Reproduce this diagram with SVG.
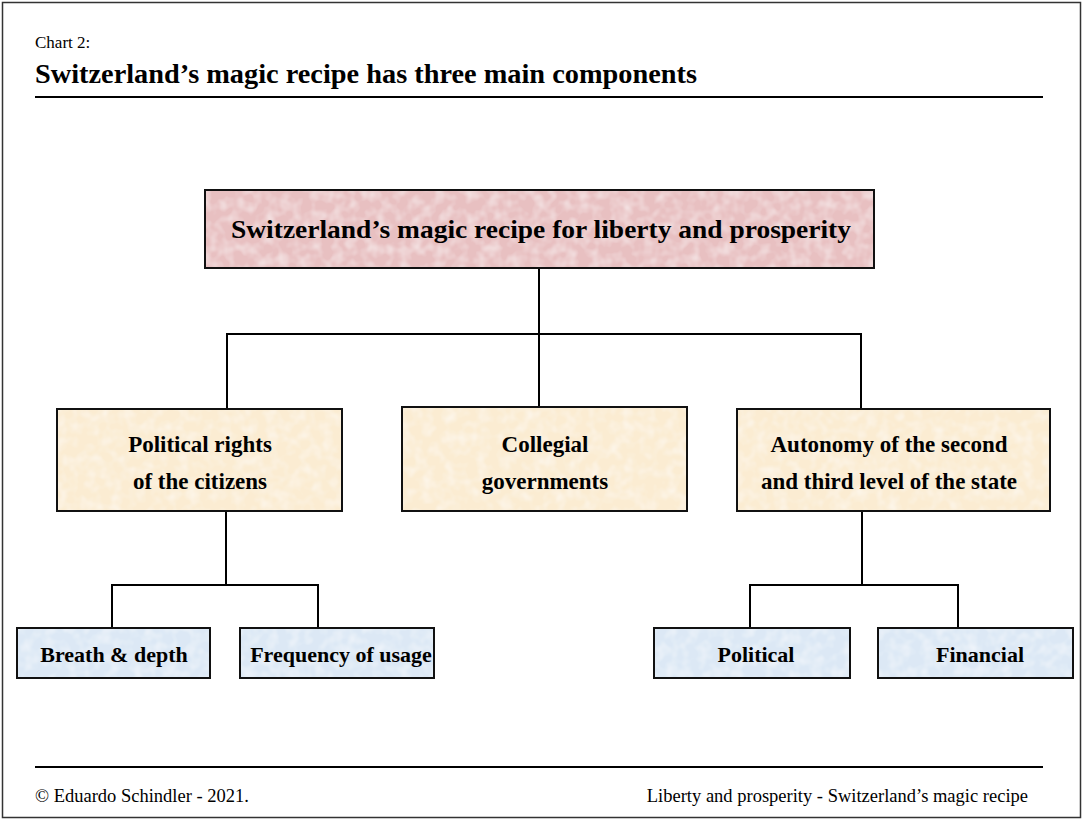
<svg xmlns="http://www.w3.org/2000/svg" width="1083" height="820" viewBox="0 0 1083 820">
<style>
text{font-family:"Liberation Serif","Times New Roman",serif;fill:#000}
.b{font-weight:bold}
.box{stroke:#111;stroke-width:2;fill:none}
.pink{fill:#E8C0C1}
.cream{fill:#FBECD2}
.blue{fill:#DCE8F5}
.c{text-anchor:middle}
.conn line{stroke:#000;stroke-width:2}
</style>
<defs>
<filter id="tex" x="0" y="0" width="1" height="1">
<feTurbulence type="fractalNoise" baseFrequency="0.09" numOctaves="2" seed="7" result="n"/>
<feColorMatrix in="n" type="matrix" values="0 0 0 0 1  0 0 0 0 1  0 0 0 0 1  0 0 0 0.9 -0.35" result="w"/>
<feComposite in="w" in2="SourceGraphic" operator="in" result="wi"/>
<feMerge><feMergeNode in="SourceGraphic"/><feMergeNode in="wi"/></feMerge>
</filter>
</defs>
<rect x="2.5" y="2.5" width="1078" height="815" fill="#fff" stroke="#333" stroke-width="1.5"/>
<g id="header">
<text x="35" y="48" font-size="17">Chart 2:</text>
<text x="35" y="83" font-size="28" class="b" textLength="662" lengthAdjust="spacingAndGlyphs">Switzerland’s magic recipe has three main components</text>
<line x1="35" y1="97" x2="1043" y2="97" stroke="#000" stroke-width="2"/>
</g>
<g class="conn" id="connectors">
<line x1="539" y1="268" x2="539" y2="335"/>
<line x1="226" y1="334" x2="862" y2="334"/>
<line x1="227" y1="334" x2="227" y2="409"/>
<line x1="539" y1="334" x2="539" y2="407"/>
<line x1="861" y1="334" x2="861" y2="409"/>
<line x1="226" y1="511" x2="226" y2="585"/>
<line x1="111" y1="585" x2="319" y2="585"/>
<line x1="112" y1="585" x2="112" y2="628"/>
<line x1="318" y1="585" x2="318" y2="628"/>
<line x1="862" y1="511" x2="862" y2="585"/>
<line x1="749" y1="585" x2="959" y2="585"/>
<line x1="750" y1="585" x2="750" y2="628"/>
<line x1="958" y1="585" x2="958" y2="628"/>
</g>
<g id="root">
<rect class="pink" x="205" y="190" width="669" height="78" filter="url(#tex)"/>
<rect class="box" x="205" y="190" width="669" height="78"/>
<text class="b c" x="541" y="238" font-size="26" textLength="620" lengthAdjust="spacingAndGlyphs">Switzerland’s magic recipe for liberty and prosperity</text>
</g>
<g id="political-rights">
<rect class="cream" x="57" y="409" width="285" height="102" filter="url(#tex)"/>
<rect class="box" x="57" y="409" width="285" height="102"/>
<text class="b c" x="200" y="452" font-size="23">Political rights</text>
<text class="b c" x="200" y="489" font-size="23">of the citizens</text>
</g>
<g id="collegial">
<rect class="cream" x="402" y="407" width="285" height="104" filter="url(#tex)"/>
<rect class="box" x="402" y="407" width="285" height="104"/>
<text class="b c" x="545" y="452" font-size="23">Collegial</text>
<text class="b c" x="545" y="489" font-size="23">governments</text>
</g>
<g id="autonomy">
<rect class="cream" x="737" y="409" width="313" height="102" filter="url(#tex)"/>
<rect class="box" x="737" y="409" width="313" height="102"/>
<text class="b c" x="889" y="452" font-size="23">Autonomy of the second</text>
<text class="b c" x="889" y="489" font-size="23">and third level of the state</text>
</g>
<g id="breath">
<rect class="blue" x="17" y="628" width="193" height="50" filter="url(#tex)"/>
<rect class="box" x="17" y="628" width="193" height="50"/>
<text class="b c" x="114" y="662" font-size="22">Breath &amp; depth</text>
</g>
<g id="frequency">
<rect class="blue" x="240" y="628" width="194" height="50" filter="url(#tex)"/>
<rect class="box" x="240" y="628" width="194" height="50"/>
<text class="b c" x="341" y="662" font-size="22">Frequency of usage</text>
</g>
<g id="political">
<rect class="blue" x="654" y="628" width="196" height="50" filter="url(#tex)"/>
<rect class="box" x="654" y="628" width="196" height="50"/>
<text class="b c" x="756" y="662" font-size="22">Political</text>
</g>
<g id="financial">
<rect class="blue" x="878" y="628" width="195" height="50" filter="url(#tex)"/>
<rect class="box" x="878" y="628" width="195" height="50"/>
<text class="b c" x="980" y="662" font-size="22">Financial</text>
</g>
<g id="footer">
<line x1="35" y1="767" x2="1043" y2="767" stroke="#000" stroke-width="2"/>
<text x="35" y="802" font-size="18.5">© Eduardo Schindler - 2021.</text>
<text x="1028" y="802" font-size="18.5" text-anchor="end">Liberty and prosperity - Switzerland’s magic recipe</text>
</g>
</svg>
